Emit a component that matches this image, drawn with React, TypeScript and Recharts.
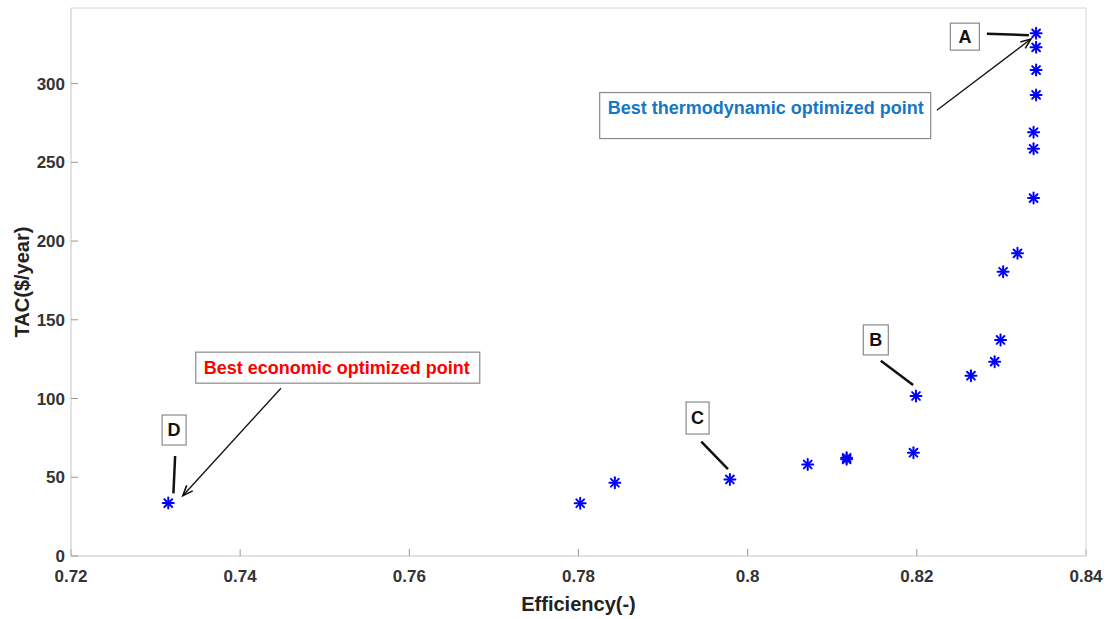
import React from 'react';
import { ScatterChart, Scatter, XAxis, YAxis, ReferenceDot, ReferenceLine } from 'recharts';

// ---- data ----
const efficiency = [
  0.7315, 0.7802, 0.7843, 0.7979, 0.8071, 0.8117, 0.8117, 0.8196, 0.8199, 0.8264,
  0.8292, 0.8299, 0.8302, 0.8319, 0.8338, 0.8338, 0.8338, 0.8341, 0.8341, 0.8341, 0.8341,
];
const tac = [
  33.6, 33.5, 46.5, 48.6, 58.1, 62.4, 61.4, 65.6, 101.6, 114.5,
  123.4, 137.2, 180.5, 192.2, 227.3, 258.6, 269.1, 292.8, 308.6, 323.0, 331.9,
];
const xTicks = [0.72, 0.74, 0.76, 0.78, 0.8, 0.82, 0.84];
const yTicks = [0, 50, 100, 150, 200, 250, 300];
const xDomain = [0.72, 0.84];
const yDomain = [0, 348];
const xLabel = 'Efficiency(-)';
const yLabel = 'TAC($/year)';

// annotation boxes (text anchored at data coordinates)
const boxTexts = ['A', 'B', 'C', 'D', 'Best thermodynamic optimized point', 'Best economic optimized point'];
const boxX = [0.82568, 0.81515, 0.79408, 0.73219, 0.80207, 0.75154];
const boxY = [329.8, 137.2, 87.6, 80.0, 279.7, 119.6];

// annotation lines (start/end in data coordinates)
const lineX1 = [0.82828, 0.81574, 0.79452, 0.73231, 0.82237, 0.74482];
const lineY1 = [331.7, 124.0, 72.6, 63.5, 283.0, 106.5];
const lineX2 = [0.83325, 0.81956, 0.79767, 0.73211, 0.83349, 0.73322];
const lineY2 = [330.7, 108.6, 55.1, 39.8, 328.3, 38.3];
const lineArrow = [false, false, false, false, true, true];

const points = efficiency.map((x, i) => ({ x, y: tac[i] }));

// ---- styles ----
const FONT = '"Liberation Sans", Arial, Helvetica, sans-serif';
const boxStyles = [
  { w: 29, h: 27, color: '#111', size: 18, align: 'center', dy: 0 },
  { w: 25, h: 30, color: '#111', size: 18, align: 'center', dy: 0 },
  { w: 23, h: 32, color: '#111', size: 18, align: 'center', dy: 0 },
  { w: 24, h: 30, color: '#111', size: 18, align: 'center', dy: 0 },
  { w: 331, h: 46, color: '#1677c4', size: 18, align: 'left', dy: -8 },
  { w: 284, h: 31, color: '#ff0000', size: 18, align: 'left', dy: 0 },
];
const lineWidths = [2.5, 2.5, 2.5, 2.5, 1.3, 1.3];

const StarMarker = (props: any) => {
  const { cx, cy } = props;
  if (cx == null || cy == null) return null;
  const r = 5.5;
  const d = r * 0.7071;
  return (
    <g stroke="#0000ff" strokeWidth={2} strokeLinecap="round">
      <line x1={cx - r} y1={cy} x2={cx + r} y2={cy} />
      <line x1={cx} y1={cy - r} x2={cx} y2={cy + r} />
      <line x1={cx - d} y1={cy - d} x2={cx + d} y2={cy + d} />
      <line x1={cx - d} y1={cy + d} x2={cx + d} y2={cy - d} />
    </g>
  );
};

const makeBox = (i: number) => (props: any) => {
  const { cx, cy } = props;
  if (cx == null || cy == null) return null;
  const s = boxStyles[i];
  const left = cx - s.w / 2;
  const top = cy - s.h / 2;
  return (
    <g>
      <rect x={left} y={top} width={s.w} height={s.h} fill="#fff" stroke="#8a8a8a" strokeWidth={1.2} />
      <text
        x={s.align === 'center' ? cx : left + 8}
        y={cy + s.dy}
        textAnchor={s.align === 'center' ? 'middle' : 'start'}
        dominantBaseline="central"
        fill={s.color}
        fontFamily={FONT}
        fontWeight="bold"
        fontSize={s.size}
      >
        {boxTexts[i]}
      </text>
    </g>
  );
};

const makeLine = (i: number) => (props: any) => {
  const { x1, y1, x2, y2 } = props;
  if (x1 == null) return null;
  const w = lineWidths[i];
  let head = null;
  if (lineArrow[i]) {
    const ang = Math.atan2(y2 - y1, x2 - x1);
    const L = 11;
    const a = 0.38;
    const p1 = [x2 - L * Math.cos(ang - a), y2 - L * Math.sin(ang - a)];
    const p2 = [x2 - L * Math.cos(ang + a), y2 - L * Math.sin(ang + a)];
    head = (
      <polyline
        points={`${p1[0]},${p1[1]} ${x2},${y2} ${p2[0]},${p2[1]}`}
        fill="none"
        stroke="#111"
        strokeWidth={1.6}
      />
    );
  }
  return (
    <g>
      <line x1={x1} y1={y1} x2={x2} y2={y2} stroke="#111" strokeWidth={w} />
      {head}
    </g>
  );
};

const tickStyle = { fontSize: 17, fontWeight: 'bold', fill: '#333', fontFamily: FONT };

const XAxisLabel = (props: any) => {
  const vb = props.viewBox || {};
  return (
    <text x={vb.x + vb.width / 2} y={vb.y + 55} textAnchor="middle" fontFamily={FONT}
      fontWeight="bold" fontSize={20} fill="#222">{xLabel}</text>
  );
};
const YAxisLabel = (props: any) => {
  const vb = props.viewBox || {};
  const x = vb.x + 22;
  const y = vb.y + vb.height / 2;
  return (
    <text x={x} y={y} transform={`rotate(-90 ${x} ${y})`} textAnchor="middle" dominantBaseline="central"
      fontFamily={FONT} fontWeight="bold" fontSize={20} fill="#222">{yLabel}</text>
  );
};

export default function App() {
  return (
    <div style={{ position: 'absolute', left: 0, top: 0, background: '#fff' }}>
      <ScatterChart width={1107} height={619} margin={{ top: 0, right: 0, bottom: 0, left: 0 }}>
        <XAxis
          xAxisId="b" type="number" dataKey="x" domain={xDomain} ticks={xTicks} allowDataOverflow
          height={63} orientation="bottom" tickSize={-7} tickMargin={21}
          stroke="#c4c4c4" tickLine={{ stroke: '#999' }} tick={tickStyle}
          tickFormatter={(v: number) => String(+v.toFixed(2))}
          label={<XAxisLabel />}
        />
        <XAxis
          xAxisId="t" type="number" dataKey="x" domain={xDomain} ticks={xTicks} allowDataOverflow
          height={8} orientation="top" tickSize={-7} tick={false}
          stroke="#d4d4d4" tickLine={{ stroke: '#999' }}
        />
        <YAxis
          yAxisId="l" type="number" dataKey="y" domain={yDomain} ticks={yTicks} allowDataOverflow
          width={71} orientation="left" tickSize={-7} tickMargin={13}
          stroke="#c4c4c4" tickLine={{ stroke: '#999' }} tick={tickStyle}
          label={<YAxisLabel />}
        />
        <YAxis
          yAxisId="r" type="number" dataKey="y" domain={yDomain} ticks={yTicks} allowDataOverflow
          width={21} orientation="right" tickSize={-7} tick={false}
          stroke="#d4d4d4" tickLine={{ stroke: '#999' }}
        />
        {lineX1.map((_, i) => (
          <ReferenceLine
            key={'l' + i}
            xAxisId="b"
            yAxisId="l"
            segment={[{ x: lineX1[i], y: lineY1[i] }, { x: lineX2[i], y: lineY2[i] }]}
            shape={makeLine(i)}
            ifOverflow="visible"
          />
        ))}
        <Scatter
          data={points}
          xAxisId="b"
          yAxisId="l"
          shape={<StarMarker />}
          isAnimationActive={false}
        />
        {boxTexts.map((_, i) => (
          <ReferenceDot
            key={'b' + i}
            xAxisId="b"
            yAxisId="l"
            x={boxX[i]}
            y={boxY[i]}
            shape={makeBox(i)}
            ifOverflow="visible"
          />
        ))}
      </ScatterChart>
    </div>
  );
}
